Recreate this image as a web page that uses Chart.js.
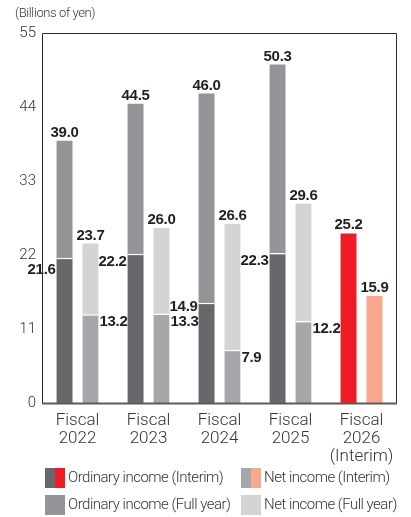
<!DOCTYPE html>
<html>
<head>
<meta charset="utf-8">
<script src="https://cdn.jsdelivr.net/npm/chart.js@4.4.1/dist/chart.umd.min.js"></script>
<style>
  html, body { margin: 0; padding: 0; background: #fff; }
  #wrap { position: relative; width: 411px; height: 517px; }
</style>
</head>
<body>
<div id="wrap"><canvas id="chart"></canvas></div>
<script>
// data (billions of yen)
const categories = [['Fiscal', '2022'], ['Fiscal', '2023'], ['Fiscal', '2024'], ['Fiscal', '2025'], ['Fiscal', '2026', '(Interim)']];
const ordinaryInterim = [21.6, 22.2, 14.9, 22.3, 25.2];
const ordinaryFull = [39.0, 44.5, 46.0, 50.3, null];
const netInterim = [13.2, 13.3, 7.9, 12.2, 15.9];
const netFull = [23.7, 26.0, 26.6, 29.6, null];
const yTicks = [0, 11, 22, 33, 44, 55];

const c = {
    dark: '#67686c',
    mid: '#939498',
    netMid: '#a6a7ab',
    light: '#d3d4d6',
    red: '#ee1d25',
    salmon: '#f7a88d',
    text: '#231f20',
    axisText: '#333'
};

const lightFont = "'Roboto', 'Liberation Sans', sans-serif";
const boldFont = "'Liberation Sans', 'Arial', sans-serif";

// colour per bar: last year is the interim forecast in red / salmon
let ordColors = ordinaryInterim.map((v, i) => i === 4 ? c.red : c.dark);
let netColors = netInterim.map((v, i) => i === 4 ? c.salmon : c.netMid);

// white separator at top of the interim part when a full year bar sits on it
let sepBorder = function (ctx) {
    return ctx.dataIndex < 4 ? {top: 1.5, left: 0, right: 0, bottom: 0} : 0;
};

const frame = {
    id: 'frame',
    afterDatasetsDraw(chart) {
        const {ctx, chartArea: a} = chart;
        ctx.save();
        ctx.strokeStyle = '#2a2a2a';
        ctx.lineWidth = 1;
        ctx.beginPath();
        ctx.moveTo(a.left + 0.5, a.bottom);
        ctx.lineTo(a.left + 0.5, a.top + 0.5);
        ctx.lineTo(a.right - 0.5, a.top + 0.5);
        ctx.lineTo(a.right - 0.5, a.bottom);
        ctx.stroke();
        ctx.strokeStyle = '#5a5a5a';
        ctx.lineWidth = 2;
        ctx.beginPath();
        ctx.moveTo(a.left, a.bottom + 0.5);
        ctx.lineTo(a.right, a.bottom + 0.5);
        ctx.stroke();
        ctx.restore();
    }
};

const valueLabels = {
    id: 'valueLabels',
    afterDatasetsDraw(chart) {
        const ctx = chart.ctx;
        const yScale = chart.scales.y;
        ctx.save();
        ctx.font = 'bold 15px ' + boldFont;
        ctx.fillStyle = c.text;
        ctx.letterSpacing = '-0.3px';

        const ordI = chart.getDatasetMeta(0).data;
        const netI = chart.getDatasetMeta(1).data;
        const ordF = chart.getDatasetMeta(2).data;
        const netF = chart.getDatasetMeta(3).data;

        const fmt = v => v.toFixed(1);
        const top = (bar, v) => {
            ctx.textAlign = 'center';
            ctx.textBaseline = 'alphabetic';
            ctx.fillText(fmt(v), bar.x, bar.y - 4);
        };

        // labels above bars (full year, or interim if no full year)
        for (let i = 0; i < categories.length; i++) {
            if (ordinaryFull[i] != null) top(ordF[i], ordinaryFull[i]);
            else top(ordI[i], ordinaryInterim[i]);
            if (netFull[i] != null) top(netF[i], netFull[i]);
            else top(netI[i], netInterim[i]);
        }

        // interim labels beside the bars, nudged apart when they collide
        const h = 12, gap = 3;
        const placed = [];
        yTicks.forEach(t => {
            const y = yScale.getPixelForValue(t);
            placed.push({x1: 0, x2: yScale.right, y1: y - 6, y2: y + 6});
        });
        const netBoxes = [];
        for (let i = 0; i < 4; i++) {
            const b = netI[i];
            const w = ctx.measureText(fmt(netInterim[i])).width;
            const x = b.x + b.width / 2 + 1;
            const cy = b.y + 8;
            ctx.textAlign = 'left';
            ctx.textBaseline = 'middle';
            ctx.fillText(fmt(netInterim[i]), x, cy);
            netBoxes.push({x1: x, x2: x + w, y1: cy - h / 2, y2: cy + h / 2});
        }
        const obstacles = placed.concat(netBoxes);
        for (let i = 0; i < 4; i++) {
            const b = ordI[i];
            const w = ctx.measureText(fmt(ordinaryInterim[i])).width;
            const x2 = b.x - b.width / 2 - 1;
            let cy = b.y + 8;
            obstacles.forEach(o => {
                if (o.x2 < x2 - w || o.x1 > x2) return;
                if (cy + h / 2 + gap > o.y1 && cy - h / 2 - gap < o.y2) {
                    const oc = (o.y1 + o.y2) / 2;
                    if (cy < oc) cy = o.y1 - gap - h / 2;
                    else cy = o.y2 + gap + h / 2;
                }
            });
            ctx.textAlign = 'right';
            ctx.textBaseline = 'middle';
            ctx.fillText(fmt(ordinaryInterim[i]), x2, cy);
        }
        ctx.restore();
    }
};

const legendItems = [
    {text: 'Ordinary income (Interim)', colors: [c.dark, c.red], x: 45, y: 468},
    {text: 'Net income (Interim)', colors: [c.netMid, c.salmon], x: 241, y: 468},
    {text: 'Ordinary income (Full year)', colors: [c.mid], x: 45, y: 495},
    {text: 'Net income (Full year)', colors: [c.light], x: 241, y: 495}
];

const extras = {
    id: 'extras',
    afterDraw(chart) {
        const ctx = chart.ctx;
        ctx.save();
        ctx.fillStyle = c.axisText;
        ctx.font = '300 13px ' + lightFont;
        ctx.letterSpacing = '-0.4px';
        ctx.textBaseline = 'middle';
        ctx.textAlign = 'left';
        ctx.fillText('(Billions of yen)', 15, 14);

        ctx.font = '300 15px ' + lightFont;
        ctx.letterSpacing = '-0.5px';
        legendItems.forEach(item => {
            const sw = 20 / item.colors.length;
            item.colors.forEach((col, k) => {
                ctx.fillStyle = col;
                ctx.fillRect(item.x + k * sw, item.y, sw, 20);
            });
            ctx.fillStyle = c.axisText;
            ctx.fillText(item.text, item.x + 23, item.y + 10.5);
        });
        ctx.restore();
    }
};

new Chart(document.getElementById('chart').getContext('2d'), {
    type: 'bar',
    data: {
        labels: categories,
        datasets: [
            {label: 'Ordinary income (Interim)', data: ordinaryInterim, stack: 'ord', backgroundColor: ordColors, borderColor: '#fff', borderWidth: sepBorder, borderSkipped: false},
            {label: 'Net income (Interim)', data: netInterim, stack: 'net', backgroundColor: netColors, borderColor: '#fff', borderWidth: sepBorder, borderSkipped: false},
            {label: 'Ordinary income (Full year)', data: ordinaryFull, stack: 'ord', backgroundColor: c.mid, borderWidth: 0},
            {label: 'Net income (Full year)', data: netFull, stack: 'net', backgroundColor: c.light, borderWidth: 0}
        ]
    },
    options: {
        responsive: true,
        maintainAspectRatio: false,
        animation: false,
        categoryPercentage: 0.73,
        barPercentage: 0.615,
        layout: {padding: {top: 33, left: 0, right: 14, bottom: 52}},
        plugins: {
            legend: {display: false},
            tooltip: {enabled: false}
        },
        scales: {
            x: {
                stacked: true,
                grid: {display: false, drawTicks: false},
                border: {display: false},
                ticks: {
                    color: c.axisText,
                    padding: 9,
                    maxRotation: 0,
                    font: {family: lightFont, size: 17, weight: 300, lineHeight: 1.06}
                },
                afterFit(s) { s.height = 62; }
            },
            y: {
                stacked: false,
                min: 0,
                max: 55,
                grid: {display: false, drawTicks: false},
                border: {display: false},
                afterBuildTicks(s) { s.ticks = yTicks.map(v => ({value: v})); },
                ticks: {
                    color: c.axisText,
                    padding: 6,
                    font: {family: lightFont, size: 15, weight: 300}
                },
                afterFit(s) { s.width = 42; }
            }
        }
    },
    plugins: [frame, valueLabels, extras]
});
</script>
</body>
</html>
